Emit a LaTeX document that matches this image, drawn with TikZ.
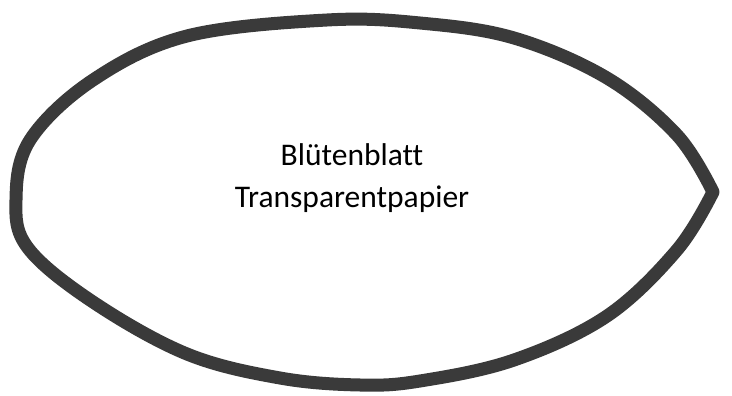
\documentclass[tikz,border=0pt]{standalone}
\usepackage{fontspec}
\setmainfont{Carlito}[Ligatures=NoCommon]
\definecolor{ink}{HTML}{3A3A3A}
\tikzset{petal/.style={draw=ink, line width=13pt, line join=round, line cap=round},
  label/.style={font=\fontsize{31.5pt}{42pt}\selectfont, text=black, anchor=base, inner sep=0pt}}
\begin{document}
\begin{tikzpicture}[x=1pt, y=-1pt]
\useasboundingbox (0,0) rectangle (732,396);
\fill[white] (0,0) rectangle (732,396);
\draw[petal] plot[smooth, tension=0.6] coordinates {
 (713,192) (677,135) (607,78) (514,38) (420,23) (327,20) (187,36) (93,80)
 (30,140) (16,200) (28,248) (93,302) (187,354) (280,378) (360,385)
 (420,381) (514,360) (607,316) (677,250) (713,192)};
\node[label] (t1) at (352,165) {Blütenblatt};
\node[label] (t2) at (352,207) {Transparentpapier};
\end{tikzpicture}
\end{document}
